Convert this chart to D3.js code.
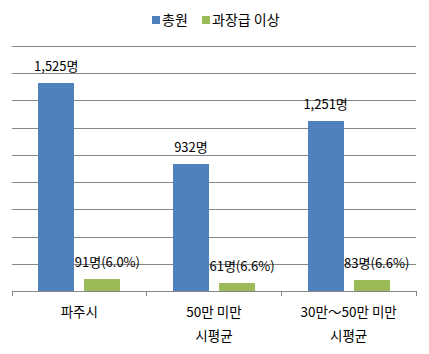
<!DOCTYPE html>
<html>
<head>
<meta charset="utf-8">
<script src="https://cdn.jsdelivr.net/npm/d3@7"></script>
<style>
  body { margin: 0; background: #fff; }
  text { font-family: "Noto Sans CJK KR", "Noto Sans", sans-serif; fill: #000; }
</style>
</head>
<body>
<div id="chart"></div>
<script>
// data
const categories = ["파주시", "50만 미만 시평균", "30만~50만 미만 시평균"];
const categoryLines = [["파주시"], ["50만 미만", "시평균"], ["30만～50만 미만", "시평균"]];
const seriesNames = ["총원", "과장급 이상"];
const totalValues = [1525, 932, 1251];
const managerValues = [91, 61, 83];
const managerShares = ["6.0%", "6.6%", "6.6%"];
const yTicks = [0, 200, 400, 600, 800, 1000, 1200, 1400, 1600, 1800];

const W = 429, H = 354;
const margin = { top: 46, right: 13, bottom: 63, left: 12 };
const colors = ["#4F81BD", "#9BBB59"];

const svg = d3.select("#chart").append("svg")
  .attr("width", W).attr("height", H);

const x0 = d3.scaleBand()
  .domain(categories)
  .range([margin.left, W - margin.right])
  .padding(0);

const x1 = d3.scaleBand()
  .domain(seriesNames)
  .range([0, x0.bandwidth()])
  .paddingInner(0.22)
  .paddingOuter(0.57);

const y = d3.scaleLinear()
  .domain([0, 1800])
  .range([H - margin.bottom, margin.top]);

// gridlines
svg.append("g")
  .attr("transform", `translate(${margin.left},0)`)
  .call(d3.axisLeft(y).tickValues(yTicks.slice(1)).tickSize(-(W - margin.left - margin.right)).tickFormat(""))
  .call(g => g.select(".domain").remove())
  .call(g => g.selectAll(".tick line").attr("stroke", "#868686").attr("shape-rendering", "crispEdges"));

// bars
const rows = categories.map((c, i) => ({ cat: c, values: [totalValues[i], managerValues[i]], share: managerShares[i] }));

const groups = svg.selectAll(".grp").data(rows).join("g")
  .attr("class", "grp")
  .attr("transform", d => `translate(${x0(d.cat)},0)`);

groups.selectAll("rect")
  .data(d => d.values.map((v, j) => ({ key: seriesNames[j], v, j })))
  .join("rect")
  .attr("x", d => x1(d.key))
  .attr("width", x1.bandwidth())
  .attr("y", d => y(d.v))
  .attr("height", d => y(0) - y(d.v))
  .attr("fill", d => colors[d.j])
  .attr("shape-rendering", "crispEdges");

// value labels
groups.append("text")
  .attr("x", x1(seriesNames[0]) + x1.bandwidth() / 2)
  .attr("y", d => y(d.values[0]) - 12)
  .attr("text-anchor", "middle")
  .attr("font-size", 13)
  .text(d => d3.format(",")(d.values[0]) + "명");

groups.append("text")
  .attr("x", x1(seriesNames[1]) + x1.bandwidth() / 2 + 5)
  .attr("y", d => y(d.values[1]) - 12)
  .attr("text-anchor", "middle")
  .attr("font-size", 13)
  .text(d => d.values[1] + "명(" + d.share + ")");

// x axis
const xAxis = svg.append("g").attr("transform", `translate(0,${y(0)})`);
xAxis.append("line")
  .attr("x1", margin.left).attr("x2", W - margin.right)
  .attr("stroke", "#868686").attr("shape-rendering", "crispEdges");
const tickPos = categories.map(c => x0(c)).concat([x0.range()[1]]);
xAxis.selectAll(".tk").data(tickPos).join("line")
  .attr("class", "tk")
  .attr("x1", d => d).attr("x2", d => d)
  .attr("y1", 0).attr("y2", 5)
  .attr("stroke", "#868686").attr("shape-rendering", "crispEdges");

xAxis.selectAll(".lbl").data(categories).join("text")
  .attr("class", "lbl")
  .attr("text-anchor", "middle")
  .attr("font-size", 13.5)
  .attr("x", d => x0(d) + x0.bandwidth() / 2)
  .selectAll("tspan")
  .data((d, i) => categoryLines[i])
  .join("tspan")
  .attr("x", function () { return this.parentNode.getAttribute("x"); })
  .attr("y", (d, k) => 26 + k * 24)
  .text(d => d);

// legend
const legend = svg.append("g").attr("transform", "translate(0,20)");
const legendX = [152, 202];
seriesNames.forEach((s, i) => {
  legend.append("rect")
    .attr("x", legendX[i]).attr("y", -4)
    .attr("width", 8).attr("height", 8)
    .attr("fill", colors[i]);
  legend.append("text")
    .attr("x", legendX[i] + 10).attr("y", 0)
    .attr("dy", "0.36em")
    .attr("font-size", 14)
    .text(s);
});
</script>
</body>
</html>
